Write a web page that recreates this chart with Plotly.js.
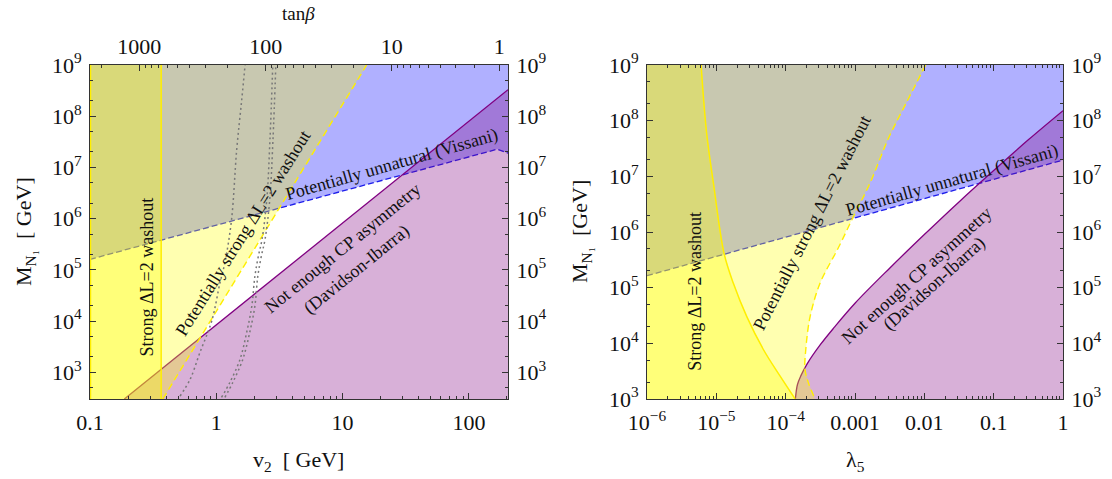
<!DOCTYPE html>
<html>
<head>
<meta charset="utf-8">
<script src="https://cdn.plot.ly/plotly-3.0.1.min.js"></script>
<style>html,body{margin:0;padding:0;background:#fff;}#chart{width:1112px;height:479px;}</style>
</head>
<body>
<div id="chart"></div>
<script>
// ---------------- DATA ----------------
const vEW = 246;                       // GeV, used for the tanβ axis
// Left panel: x = v2 [GeV], y = M_N1 [GeV]
const leftXRange = [0.1, 204];
const leftYRange = [300, 1e9];
const vissaniL_v2 = [0.1, 168, 204];
const vissaniL_M  = [1.6e5, 2.27e7, 1.9e7];
const diL_v2 = [0.187, 204];
const diL_M  = [300, 3.3e8];
const potL_v2 = [0.377, 15.5];
const potL_M  = [300, 1e9];
const strongL_v2 = 0.366;
const dotA_v2 = [0.516, 0.62, 0.743, 0.92, 1.07, 1.17, 1.32, 1.45, 1.59, 1.69];
const dotA_M  = [342, 724, 2.45e3, 1.0e4, 5.6e4, 1.38e5, 9.5e5, 2.2e7, 2.1e8, 1e9];
const dotB1_v2 = [1.10, 1.28, 1.54, 1.74, 1.91, 2.02, 2.15, 2.30, 2.51, 2.66, 2.80];
const dotB1_M  = [323, 631, 1.78e3, 6.0e3, 1.95e4, 7.4e4, 1.82e5, 3.9e5, 2.34e6, 3.47e7, 1e9];
const dotB2_v2 = [1.17, 1.35, 1.62, 1.84, 2.02, 2.13, 2.27, 2.43, 2.65, 2.81, 2.96];
const dotB2_M  = [323, 631, 1.78e3, 6.0e3, 1.95e4, 7.4e4, 1.82e5, 3.9e5, 2.34e6, 3.47e7, 1e9];
const tanBetaLabels = [1000, 100, 10, 1];

// Right panel: x = λ5, y = M_N1 [GeV]
const rightXRange = [1e-6, 1];
const rightYRange = [1e3, 1e9];
const vissaniR_l = [1e-6, 1];
const vissaniR_M = [1.64e5, 1.96e7];
const diR_l = [1.38e-4, 1.48e-4, 1.66e-4, 2.04e-4, 3.16e-4, 5.01e-4, 1e-3, 3.16e-3, 0.01, 0.0316, 0.1, 0.316, 1];
const diR_M = [1e3, 1.82e3, 2.63e3, 4.27e3, 9.44e3, 1.93e4, 5.25e4, 2.24e5, 9.0e5, 3.47e6, 1.27e7, 4.52e7, 1.51e8];
const strongR_l = [6.03e-6, 7.24e-6, 9.12e-6, 1.29e-5, 1.76e-5, 2.75e-5, 4.79e-5, 8.32e-5, 1.37e-4];
const strongR_M = [1e9, 6.03e7, 7.24e6, 4.17e5, 1.2e5, 3.02e4, 7.67e3, 2.57e3, 1e3];
const potR_l = [0.01045, 5.6e-3, 3.03e-3, 1.65e-3, 9.5e-4, 5.75e-4, 3.13e-4, 2.25e-4, 1.95e-4, 1.9e-4, 2.13e-4, 2.65e-4];
const potR_M = [1e9, 2.19e8, 4.8e7, 7.6e6, 1.9e6, 5.2e5, 1.2e5, 3.0e4, 7.7e3, 3.4e3, 1.95e3, 1e3];

// Tick labels
const leftXTickVals = [0.1, 1, 10, 100];
const leftXTickText = ['0.1', '1', '10', '100'];
const rightXTickVals = [1e-6, 1e-5, 1e-4, 1e-3, 1e-2, 0.1, 1];
const rightXTickText = ['10<sup>\u22126</sup>', '10<sup>\u22125</sup>', '10<sup>\u22124</sup>', '0.001', '0.01', '0.1', '1'];
const yTickVals = [1e3, 1e4, 1e5, 1e6, 1e7, 1e8, 1e9];
const yTickText = ['10<sup>3</sup>', '10<sup>4</sup>', '10<sup>5</sup>', '10<sup>6</sup>', '10<sup>7</sup>', '10<sup>8</sup>', '10<sup>9</sup>'];

// ---------------- helpers ----------------
const serif = 'Liberation Serif, Times New Roman, serif';
const v2OfTanB = t => vEW / Math.sqrt(1 + t * t);
function minorTicks(loExp, hiExp, mults) {
  const out = [];
  for (let e = loExp; e <= hiExp; e++) for (const m of mults) out.push(m * Math.pow(10, e));
  return out;
}
const L = Math.log10;

const blueFill = 'rgba(0,0,255,0.31)';
const purpleFill = 'rgba(128,0,128,0.31)';
const yellowFill = 'rgba(255,255,0,0.31)';
const yellowLine = 'rgb(255,238,0)';

function fillTrace(x, y, color, xa, ya) {
  return {x, y, xaxis: xa, yaxis: ya, mode: 'lines', fill: 'toself', fillcolor: color,
          line: {width: 0}, hoverinfo: 'skip', showlegend: false};
}
function lineTrace(x, y, color, dash, width, xa, ya, shape) {
  return {x, y, xaxis: xa, yaxis: ya, mode: 'lines', line: {color, dash, width, shape: shape || 'linear'},
          hoverinfo: 'skip', showlegend: false};
}
function ghost(x, y, xa, ya) {   // invisible trace so that an overlaying axis gets drawn
  return {x, y, xaxis: xa, yaxis: ya, mode: 'lines', opacity: 0, line: {width: 0},
          hoverinfo: 'skip', showlegend: false};
}

const [lx0, lx1] = leftXRange, [ly0, ly1] = leftYRange;
const [rx0, rx1] = rightXRange, [ry0, ry1] = rightYRange;

const traces = [
  // ---- left panel ----
  fillTrace(vissaniL_v2.concat([lx1, lx0]), vissaniL_M.concat([ly1, ly1]), blueFill, 'x', 'y'),
  lineTrace(vissaniL_v2, vissaniL_M, 'rgb(30,30,235)', '6px,3px', 1.3, 'x', 'y'),
  fillTrace(diL_v2.concat([lx1]), diL_M.concat([ly0]), purpleFill, 'x', 'y'),
  lineTrace(diL_v2, diL_M, 'rgb(128,0,128)', 'solid', 1.3, 'x', 'y'),
  fillTrace([lx0].concat(potL_v2, [lx0]), [ly0].concat(potL_M, [ly1]), yellowFill, 'x', 'y'),
  lineTrace(potL_v2, potL_M, yellowLine, '7px,4px', 1.4, 'x', 'y'),
  fillTrace([lx0, strongL_v2, strongL_v2, lx0], [ly0, ly0, ly1, ly1], yellowFill, 'x', 'y'),
  lineTrace([strongL_v2, strongL_v2], [ly0, ly1], yellowLine, 'solid', 1.5, 'x', 'y'),
  lineTrace([lx0, lx0], [ly0, ly1], yellowLine, 'solid', 2.5, 'x', 'y'),
  lineTrace(dotA_v2, dotA_M, 'rgb(120,120,120)', '2px,3px', 1.5, 'x', 'y', 'spline'),
  lineTrace(dotB1_v2, dotB1_M, 'rgb(120,120,120)', '2px,3px', 1.5, 'x', 'y', 'spline'),
  lineTrace(dotB2_v2, dotB2_M, 'rgb(120,120,120)', '2px,3px', 1.5, 'x', 'y', 'spline'),
  ghost(vissaniL_v2, vissaniL_M, 'x2', 'y'),
  ghost(vissaniL_v2, vissaniL_M, 'x', 'y2'),
  // ---- right panel ----
  fillTrace(vissaniR_l.concat([rx1, rx0]), vissaniR_M.concat([ry1, ry1]), blueFill, 'x3', 'y3'),
  lineTrace(vissaniR_l, vissaniR_M, 'rgb(30,30,235)', '6px,3px', 1.3, 'x3', 'y3'),
  fillTrace(diR_l.concat([rx1]), diR_M.concat([ry0]), purpleFill, 'x3', 'y3'),
  lineTrace(diR_l, diR_M, 'rgb(128,0,128)', 'solid', 1.3, 'x3', 'y3', 'spline'),
  fillTrace(potR_l.concat([rx0, rx0]), potR_M.concat([ry0, ry1]), yellowFill, 'x3', 'y3'),
  lineTrace(potR_l, potR_M, yellowLine, '7px,4px', 1.4, 'x3', 'y3', 'spline'),
  fillTrace(strongR_l.concat([rx0, rx0]), strongR_M.concat([ry0, ry1]), yellowFill, 'x3', 'y3'),
  lineTrace(strongR_l, strongR_M, yellowLine, 'solid', 1.5, 'x3', 'y3', 'spline'),
  ghost(vissaniR_l, vissaniR_M, 'x4', 'y3'),
  ghost(vissaniR_l, vissaniR_M, 'x3', 'y4'),
];

// ---------------- layout ----------------
const W = 1112, H = 479;
const leftDom = [90 / W, 508 / W];
const rightDom = [647 / W, 1063 / W];
const yDom = [(H - 399) / H, (H - 65) / H];
const tickFont = {family: serif, size: 22, color: '#111'};
const frame = {showline: true, linecolor: '#333', linewidth: 1, showgrid: false, zeroline: false,
               ticks: 'inside', ticklen: 6, tickcolor: '#333', tickwidth: 1, tickfont: tickFont,
               fixedrange: true};
const xMinorL = {ticks: 'inside', ticklen: 3, tickcolor: '#333', tickvals: minorTicks(-1, 2, [2,3,4,5,6,7,8,9])};
const xMinorR = {ticks: 'inside', ticklen: 3, tickcolor: '#333', tickvals: minorTicks(-6, -1, [2,3,4,5,6,7,8,9])};
const yMinor = {ticks: 'inside', ticklen: 3, tickcolor: '#333', tickvals: minorTicks(2, 8, [2, 5])};
const tanMinor = {ticks: 'inside', ticklen: 3, tickcolor: '#333',
                  tickvals: minorTicks(0, 3, [2,3,4,5,6,7,8,9]).filter(t => v2OfTanB(t) >= lx0).map(v2OfTanB)};

const layout = {
  width: W, height: H, margin: {l: 0, r: 0, t: 0, b: 0},
  paper_bgcolor: '#fff', plot_bgcolor: 'rgba(0,0,0,0)', showlegend: false,
  font: {family: serif, color: '#111', size: 18},
  xaxis: Object.assign({}, frame, {domain: leftDom, anchor: 'y', type: 'log', range: [L(lx0), L(lx1)],
        tickmode: 'array', tickvals: leftXTickVals, ticktext: leftXTickText, minor: xMinorL, ticklabelstandoff: 4}),
  xaxis2: Object.assign({}, frame, {overlaying: 'x', side: 'top', anchor: 'y', type: 'log', range: [L(lx0), L(lx1)],
        tickmode: 'array', tickvals: tanBetaLabels.map(v2OfTanB), ticktext: tanBetaLabels.map(String), minor: tanMinor, ticklabelstandoff: 1}),
  yaxis: Object.assign({}, frame, {domain: yDom, anchor: 'x', type: 'log', range: [L(ly0), L(ly1)],
        tickmode: 'array', tickvals: yTickVals, ticktext: yTickText, minor: yMinor, ticklabelstandoff: 3}),
  yaxis2: Object.assign({}, frame, {overlaying: 'y', side: 'right', anchor: 'x', type: 'log', range: [L(ly0), L(ly1)],
        tickmode: 'array', tickvals: yTickVals, ticktext: yTickText, minor: yMinor, ticklabelstandoff: 3}),
  xaxis3: Object.assign({}, frame, {domain: rightDom, anchor: 'y3', type: 'log', range: [L(rx0), L(rx1)],
        tickmode: 'array', tickvals: rightXTickVals, ticktext: rightXTickText, minor: xMinorR, ticklabelstandoff: 4}),
  xaxis4: Object.assign({}, frame, {overlaying: 'x3', side: 'top', anchor: 'y3', type: 'log', range: [L(rx0), L(rx1)],
        tickmode: 'array', tickvals: rightXTickVals, showticklabels: false, minor: xMinorR}),
  yaxis3: Object.assign({}, frame, {domain: yDom, anchor: 'x3', type: 'log', range: [L(ry0), L(ry1)],
        tickmode: 'array', tickvals: yTickVals, ticktext: yTickText, minor: yMinor, ticklabelstandoff: 3}),
  yaxis4: Object.assign({}, frame, {overlaying: 'y3', side: 'right', anchor: 'x3', type: 'log', range: [L(ry0), L(ry1)],
        tickmode: 'array', tickvals: yTickVals, ticktext: yTickText, minor: yMinor, ticklabelstandoff: 3}),
  annotations: []
};

function lab(text, x, y, angle, xr, yr) {
  return {text, x: L(x), y: L(y), xref: xr, yref: yr, textangle: angle, showarrow: false,
          font: {family: serif, size: 18, color: '#111'}};
}
function paperLab(text, px, py, angle, size) {
  return {text, x: px / W, y: 1 - py / H, xref: 'paper', yref: 'paper', textangle: angle,
          showarrow: false, font: {family: serif, size, color: '#111'}, xanchor: 'center', yanchor: 'middle'};
}
layout.annotations.push(
  lab('Strong \u0394L=2 washout', 0.283, 7.1e4, -90, 'x', 'y'),
  lab('Potentially strong \u0394L=2 washout', 1.63, 5.2e5, -58, 'x', 'y'),
  lab('Potentially unnatural (Vissani)', 24.8, 1.12e7, -16, 'x', 'y'),
  lab('Not enough CP asymmetry', 10, 2.7e5, -39, 'x', 'y'),
  lab('(Davidson-Ibarra)', 13, 1.0e5, -39, 'x', 'y'),
  lab('Strong \u0394L=2 washout', 4.8e-6, 8.5e4, -90, 'x3', 'y3'),
  lab('Potentially strong \u0394L=2 washout', 2.38e-4, 1.45e6, -63, 'x3', 'y3'),
  lab('Potentially unnatural (Vissani)', 0.025, 8.5e6, -16, 'x3', 'y3'),
  lab('Not enough CP asymmetry', 7.8e-3, 1.7e5, -42, 'x3', 'y3'),
  lab('(Davidson-Ibarra)', 0.014, 1.2e5, -42, 'x3', 'y3'),
  paperLab('M<sub>N\u2081</sub>  [ GeV]', 25, 232, -90, 22),
  paperLab('M<sub>N\u2081</sub>  [GeV]', 581, 232, -90, 22),
  paperLab('v<sub>2</sub>  [ GeV]', 298, 461, 0, 22),
  paperLab('\u03bb<sub>5</sub>', 855, 461, 0, 22),
  paperLab('tan<i>\u03b2</i>', 298, 13, 0, 19)
);

Plotly.newPlot('chart', traces, layout, {displayModeBar: false, staticPlot: true});
</script>
</body>
</html>
